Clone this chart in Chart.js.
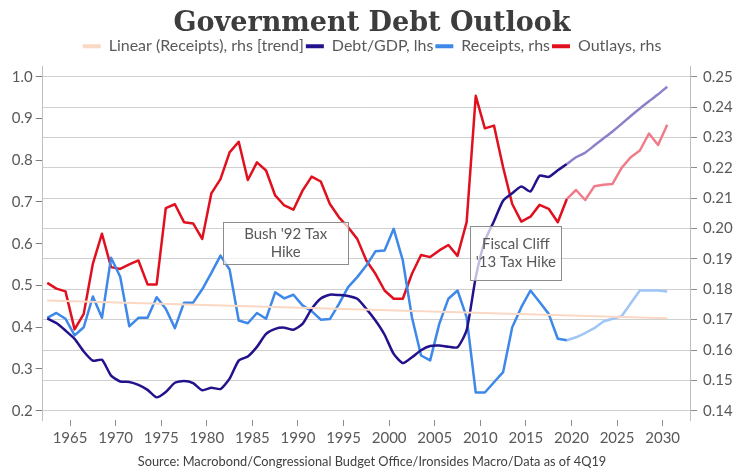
<!DOCTYPE html>
<html>
<head>
<meta charset="utf-8">
<title>Government Debt Outlook</title>
<script src="https://cdn.jsdelivr.net/npm/chart.js@4.4.1/dist/chart.umd.min.js"></script>
<style>
  html, body { margin: 0; padding: 0; background: #ffffff; }
  #wrap { width: 744px; height: 475px; }
</style>
</head>
<body>
<div id="wrap"><canvas id="debtChart" width="744" height="475"></canvas></div>
<script>
// Fiscal years (CBO history to 2019, projection after)
const years = [
    1962, 1963, 1964, 1965, 1966, 1967, 1968, 1969, 1970, 1971,
    1972, 1973, 1974, 1975, 1976, 1977, 1978, 1979, 1980, 1981,
    1982, 1983, 1984, 1985, 1986, 1987, 1988, 1989, 1990, 1991,
    1992, 1993, 1994, 1995, 1996, 1997, 1998, 1999, 2000, 2001,
    2002, 2003, 2004, 2005, 2006, 2007, 2008, 2009, 2010, 2011,
    2012, 2013, 2014, 2015, 2016, 2017, 2018, 2019, 2020, 2021,
    2022, 2023, 2024, 2025, 2026, 2027, 2028, 2029, 2030
];
const forecastFrom = 2019;

// Debt/GDP, left axis
const debtGdp = [
    0.421, 0.410, 0.392, 0.372, 0.342, 0.320, 0.322, 0.284, 0.270, 0.269,
    0.262, 0.250, 0.232, 0.245, 0.267, 0.271, 0.266, 0.249, 0.255, 0.252,
    0.277, 0.320, 0.330, 0.353, 0.384, 0.396, 0.399, 0.394, 0.408, 0.444,
    0.469, 0.478, 0.477, 0.475, 0.468, 0.444, 0.416, 0.382, 0.336, 0.314,
    0.328, 0.345, 0.355, 0.356, 0.353, 0.352, 0.393, 0.520, 0.607, 0.654,
    0.703, 0.721, 0.737, 0.725, 0.763, 0.760, 0.776, 0.791, 0.807, 0.818,
    0.835, 0.852, 0.869, 0.887, 0.906, 0.924, 0.941, 0.958, 0.976
];

// Receipts / GDP, right axis
const receipts = [
    0.1706, 0.1722, 0.1703, 0.1648, 0.1675, 0.1776, 0.1706, 0.1904, 0.1841, 0.1678,
    0.1706, 0.1706, 0.1774, 0.1736, 0.1672, 0.1756, 0.1756, 0.1800, 0.1854, 0.1911,
    0.1865, 0.1697, 0.1688, 0.1722, 0.1703, 0.1790, 0.1770, 0.1782, 0.1747, 0.1728,
    0.1700, 0.1702, 0.1752, 0.1807, 0.1840, 0.1878, 0.1925, 0.1928, 0.1999, 0.1895,
    0.1708, 0.1582, 0.1566, 0.1686, 0.1769, 0.1796, 0.1708, 0.1460, 0.1460, 0.1494,
    0.1527, 0.1675, 0.1741, 0.1796, 0.1758, 0.1719, 0.1637, 0.1632, 0.1642, 0.1656,
    0.1672, 0.1694, 0.1703, 0.1711, 0.1754, 0.1796, 0.1796, 0.1796, 0.1793
];

// Outlays / GDP, right axis
const outlays = [
    0.1821, 0.1802, 0.1793, 0.1668, 0.1719, 0.1884, 0.1983, 0.1873, 0.1867, 0.1882,
    0.1895, 0.1816, 0.1816, 0.2067, 0.2080, 0.2021, 0.2017, 0.1966, 0.2116, 0.2163,
    0.2251, 0.2286, 0.2160, 0.2218, 0.2191, 0.2109, 0.2076, 0.2062, 0.2125, 0.2171,
    0.2155, 0.2081, 0.2037, 0.2004, 0.1966, 0.1895, 0.1851, 0.1796, 0.1769, 0.1769,
    0.1851, 0.1913, 0.1906, 0.1928, 0.1946, 0.1910, 0.2021, 0.2437, 0.2330, 0.2339,
    0.2202, 0.2081, 0.2023, 0.2039, 0.2078, 0.2065, 0.2021, 0.2098, 0.2127, 0.2094,
    0.2139, 0.2144, 0.2147, 0.2200, 0.2235, 0.2257, 0.2313, 0.2275, 0.2342
];

// Linear trend of receipts, end points
const trendYears = [1962, 2030];
const trendValues = [0.1763, 0.1705];

// Axis ticks
const yearTicks = [1965, 1970, 1975, 1980, 1985, 1990, 1995, 2000, 2005, 2010, 2015, 2020, 2025, 2030];
const lhsTicks = [0.2, 0.3, 0.4, 0.5, 0.6, 0.7, 0.8, 0.9, 1.0];
const rhsTicks = [0.14, 0.15, 0.16, 0.17, 0.18, 0.19, 0.20, 0.21, 0.22, 0.23, 0.24, 0.25];

document.addEventListener("DOMContentLoaded", function() {
    Chart.defaults.font.family = 'Lato';
    Chart.defaults.color = '#595959';

    const forecastIdx = years.indexOf(forecastFrom);
    // fiscal year plotted at its mid point
    const toPoints = vals => vals.map((v, i) => ({ x: years[i] + 0.5, y: v }));
    const twoTone = (dark, light) => ({
        borderColor: ctx => ctx.p0DataIndex >= forecastIdx ? light : dark
    });

    const notes = [
        { lines: ["Bush '92 Tax", 'Hike'], x0: 1981.8, x1: 1995.5, y0: 0.2020, y1: 0.1882 },
        { lines: ['Fiscal Cliff', "'13 Tax Hike"], x0: 2008.9, x1: 2018.9, y0: 0.2008, y1: 0.1830 }
    ];

    const notesPlugin = {
        id: 'notes',
        afterDatasetsDraw(chart) {
            const { ctx, scales } = chart;
            ctx.save();
            notes.forEach(n => {
                const l = scales.x.getPixelForValue(n.x0);
                const r = scales.x.getPixelForValue(n.x1);
                const t = scales.yR.getPixelForValue(n.y0);
                const b = scales.yR.getPixelForValue(n.y1);
                ctx.fillStyle = 'rgba(255,255,255,0.72)';
                ctx.fillRect(l, t, r - l, b - t);
                ctx.strokeStyle = '#8c8c8c';
                ctx.lineWidth = 1;
                ctx.strokeRect(Math.round(l) + 0.5, Math.round(t) + 0.5, Math.round(r - l), Math.round(b - t));
                ctx.fillStyle = '#595959';
                ctx.font = '15px Lato';
                ctx.textAlign = 'center';
                ctx.textBaseline = 'middle';
                const cy = (t + b) / 2;
                ctx.fillText(n.lines[0], (l + r) / 2, cy - 9);
                ctx.fillText(n.lines[1], (l + r) / 2, cy + 9);
            });
            ctx.restore();
        }
    };

    const legendSpacer = {
        id: 'legendSpacer',
        beforeInit(chart) {
            const fit = chart.legend.fit;
            chart.legend.fit = function() {
                fit.bind(chart.legend)();
                this.height += 2.5;
            };
        }
    };

    const ctx = document.getElementById('debtChart').getContext('2d');
    new Chart(ctx, {
        type: 'line',
        data: {
            datasets: [
                {
                    label: 'Linear (Receipts), rhs [trend]',
                    data: trendYears.map((y, i) => ({ x: y + 0.5, y: trendValues[i] })),
                    yAxisID: 'yR',
                    borderColor: '#fad8c4',
                    backgroundColor: '#fad8c4',
                    borderWidth: 2
                },
                {
                    label: 'Debt/GDP, lhs',
                    data: toPoints(debtGdp),
                    yAxisID: 'yL',
                    borderColor: '#22138c',
                    backgroundColor: '#22138c',
                    segment: twoTone('#22138c', '#8b80c9'),
                    borderWidth: 2.5,
                    tension: 0.2
                },
                {
                    label: 'Receipts, rhs',
                    data: toPoints(receipts),
                    yAxisID: 'yR',
                    borderColor: '#3d88e8',
                    backgroundColor: '#3d88e8',
                    segment: twoTone('#3d88e8', '#9fc6f5'),
                    borderWidth: 2.5
                },
                {
                    label: 'Outlays, rhs',
                    data: toPoints(outlays),
                    yAxisID: 'yR',
                    borderColor: '#e0101e',
                    backgroundColor: '#e0101e',
                    segment: twoTone('#e0101e', '#f07c8a'),
                    borderWidth: 2.5
                }
            ]
        },
        options: {
            responsive: false,
            animation: false,
            elements: {
                point: { radius: 0 },
                line: { borderJoinStyle: 'round' }
            },
            plugins: {
                title: {
                    display: true,
                    text: 'Government Debt Outlook',
                    color: '#3d3d3d',
                    font: { family: 'DejaVu Serif', size: 27, weight: 'bold' },
                    padding: { top: 8, bottom: -4.2 }
                },
                legend: {
                    labels: {
                        boxWidth: 18,
                        boxHeight: 4,
                        padding: 2,
                        color: '#595959',
                        font: { size: 16 },
                        generateLabels: chart => Chart.defaults.plugins.legend.labels.generateLabels(chart)
                            .map(item => Object.assign(item, { lineWidth: 0 }))
                    }
                },
                subtitle: {
                    display: true,
                    position: 'bottom',
                    text: 'Source: Macrobond/Congressional Budget Office/Ironsides Macro/Data as of 4Q19',
                    color: '#404040',
                    font: { size: 12.8 },
                    padding: { top: 4, bottom: 5.8 }
                },
                tooltip: { enabled: false }
            },
            scales: {
                x: {
                    type: 'linear',
                    min: 1962,
                    max: 2033,
                    afterBuildTicks: s => { s.ticks = yearTicks.map(v => ({ value: v })); },
                    afterFit: s => { s.height = 29.8; },
                    grid: { drawOnChartArea: false, tickLength: 6, tickColor: '#8c8c8c' },
                    border: { display: false },
                    ticks: {
                        color: '#595959',
                        font: { size: 15 },
                        padding: 3,
                        maxRotation: 0,
                        callback: v => String(v)
                    }
                },
                yL: {
                    type: 'linear',
                    position: 'left',
                    min: 0.1777,
                    max: 1.024,
                    afterBuildTicks: s => { s.ticks = lhsTicks.map(v => ({ value: v })); },
                    afterFit: s => { s.width = 42.7; },
                    grid: { drawOnChartArea: false, tickLength: 7, tickColor: '#7f7f7f' },
                    border: { color: '#bfbfbf' },
                    ticks: {
                        color: '#595959',
                        font: { size: 15 },
                        padding: 3,
                        callback: v => v.toFixed(1)
                    }
                },
                yR: {
                    type: 'linear',
                    position: 'right',
                    min: 0.13694,
                    max: 0.2533,
                    afterBuildTicks: s => { s.ticks = rhsTicks.map(v => ({ value: v })); },
                    afterFit: s => { s.width = 54; },
                    grid: { color: '#d0d0d0', tickLength: 7, tickColor: '#8c8c8c' },
                    border: { color: '#bfbfbf' },
                    ticks: {
                        color: '#595959',
                        font: { size: 15 },
                        padding: 6,
                        callback: v => v.toFixed(2)
                    }
                }
            }
        },
        plugins: [notesPlugin, legendSpacer]
    });
});
</script>
</body>
</html>
